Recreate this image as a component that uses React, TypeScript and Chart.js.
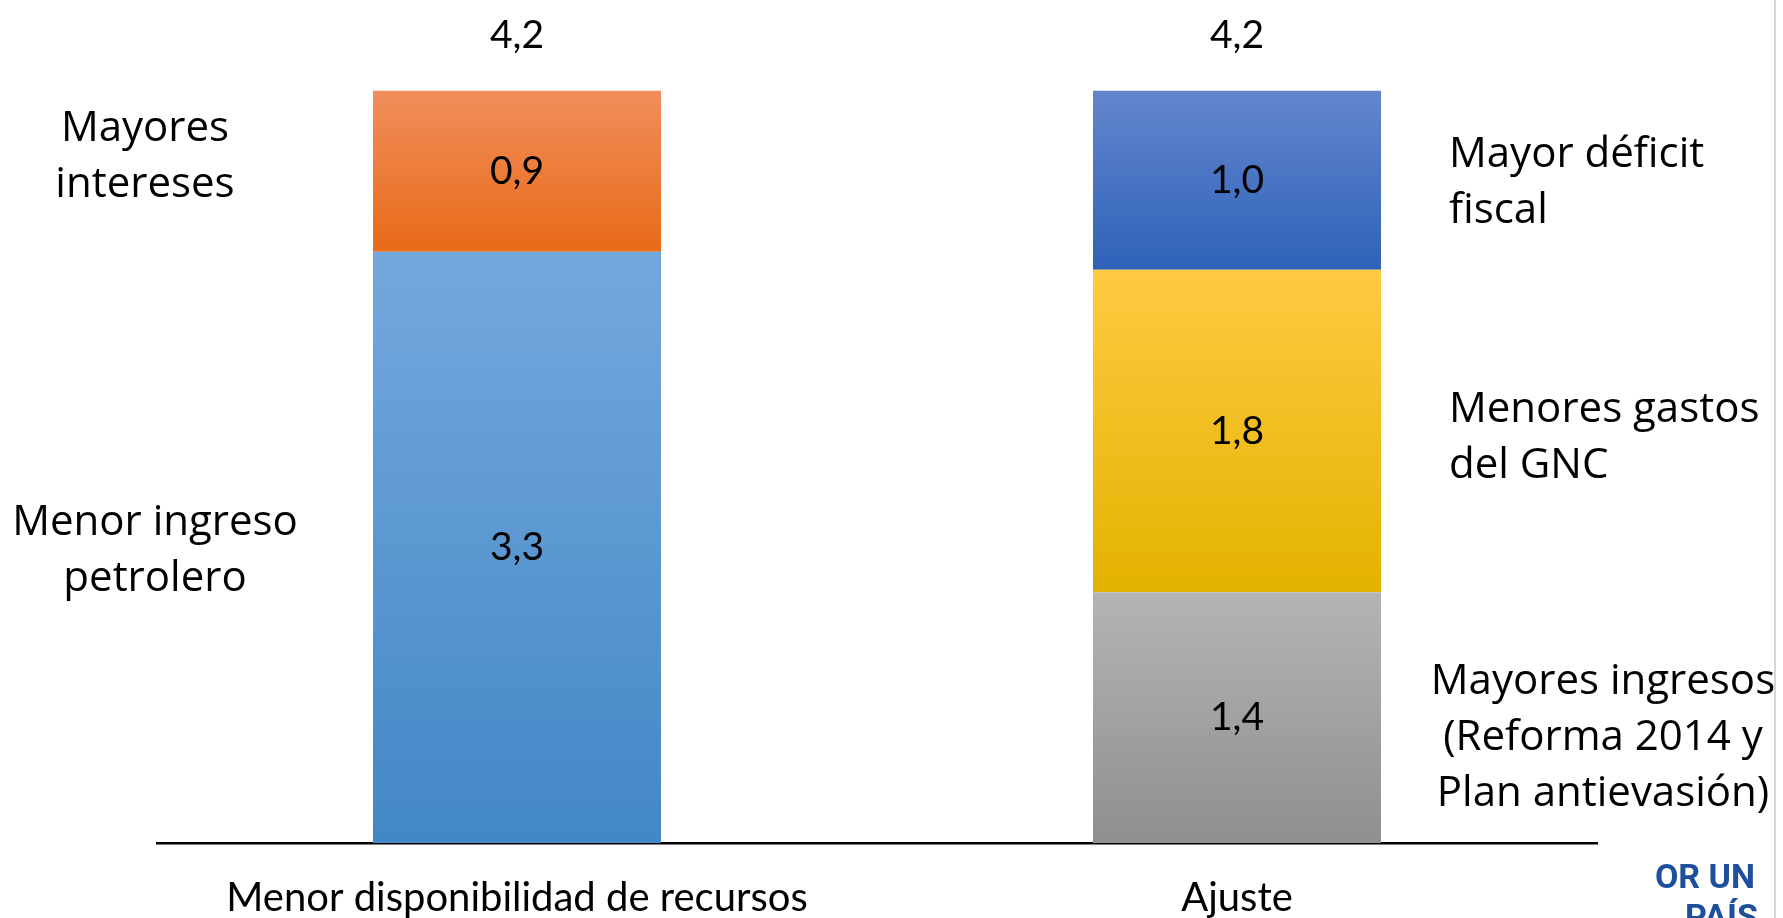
import React, { useEffect, useRef } from "react";
import { Chart, registerables } from "chart.js";

Chart.register(...registerables);

// ---- data ----
const categories = ["Menor disponibilidad de recursos", "Ajuste"];
const seriesNames = [
  "Menor ingreso petrolero",
  "Mayores intereses",
  "Mayores ingresos (Reforma 2014 y Plan antievasión)",
  "Menores gastos del GNC",
  "Mayor déficit fiscal",
];
const menorIngresoPetrolero = [3.3, null];
const mayoresIntereses = [0.9, null];
const mayoresIngresos = [null, 1.4];
const menoresGastos = [null, 1.8];
const mayorDeficit = [null, 1.0];
const sideLabelLines = [
  ["Menor ingreso", "petrolero"],
  ["Mayores", "intereses"],
  ["Mayores ingresos", "(Reforma 2014 y", "Plan antievasión)"],
  ["Menores gastos", "del GNC"],
  ["Mayor déficit", "fiscal"],
];
const logoLines = ["OR UN", "PAÍS"];

// ---- styles ----
const gradients: [string, string][] = [
  ["#74A8DD", "#4287C6"],
  ["#F18E5C", "#E86A18"],
  ["#B4B4B4", "#8F8F8F"],
  ["#FFCA42", "#E4B200"],
  ["#6386CD", "#2E62B8"],
];
// side: where the segment label sits; dx/dy offsets in px
const labelStyle = [
  { side: "left", align: "center", dx: -218, dy: 4 },
  { side: "left", align: "center", dx: -228, dy: -14 },
  { side: "right", align: "center", dx: 222, dy: 20 },
  { side: "right", align: "left", dx: 68, dy: 7 },
  { side: "right", align: "left", dx: 68, dy: 3 },
];
const allSeries = [menorIngresoPetrolero, mayoresIntereses, mayoresIngresos, menoresGastos, mayorDeficit];

const fmt = (v: number) => v.toFixed(1).replace(".", ",");

const labelsPlugin = {
  id: "labelsPlugin",
  afterDatasetsDraw(chart: any) {
    const ctx = chart.ctx;
    ctx.save();
    ctx.fillStyle = "#000";
    // values inside segments
    ctx.font = "39px Lato";
    ctx.textAlign = "center";
    ctx.textBaseline = "middle";
    chart.data.datasets.forEach((ds: any, di: number) => {
      const meta = chart.getDatasetMeta(di);
      ds.data.forEach((v: number | null, i: number) => {
        if (v == null) return;
        const el = meta.data[i];
        ctx.fillText(fmt(v), el.x, (el.y + el.base) / 2);
      });
    });
    // totals above bars
    categories.forEach((_, i) => {
      let total = 0;
      let topY = Infinity;
      let x = 0;
      chart.data.datasets.forEach((ds: any, di: number) => {
        const v = ds.data[i];
        if (v == null) return;
        total += v;
        const el = chart.getDatasetMeta(di).data[i];
        topY = Math.min(topY, el.y);
        x = el.x;
      });
      ctx.fillText(fmt(total), x, topY - 55);
    });
    // side labels
    ctx.font = "42px 'Open Sans'";
    const lh = 56;
    chart.data.datasets.forEach((ds: any, di: number) => {
      const meta = chart.getDatasetMeta(di);
      const st = labelStyle[di];
      const lines = sideLabelLines[di];
      ds.data.forEach((v: number | null, i: number) => {
        if (v == null) return;
        const el = meta.data[i];
        const left = el.x - el.width / 2;
        const right = el.x + el.width / 2;
        const x = st.side === "left" ? left + st.dx : right + st.dx;
        const cy = (el.y + el.base) / 2 + st.dy;
        ctx.textAlign = st.align;
        lines.forEach((t, li) => {
          ctx.fillText(t, x, cy + (li - (lines.length - 1) / 2) * lh);
        });
      });
    });
    ctx.restore();
  },
  afterDraw(chart: any) {
    const ctx = chart.ctx;
    ctx.save();
    ctx.strokeStyle = "#D6D6D6";
    ctx.lineWidth = 2;
    ctx.beginPath();
    ctx.moveTo(1775, 0);
    ctx.lineTo(1775, chart.height);
    ctx.stroke();
    ctx.fillStyle = "#1E4F9C";
    ctx.font = "bold 34px Roboto";
    ctx.textAlign = "right";
    ctx.textBaseline = "alphabetic";
    ctx.fillText(logoLines[0], 1755, 888);
    ctx.fillText(logoLines[1], 1758, 928);
    ctx.restore();
  },
};

export default function App() {
  const ref = useRef<HTMLCanvasElement | null>(null);
  useEffect(() => {
    document.body.style.margin = "0";
    const canvas = ref.current!;
    const datasets = allSeries.map((data, di) => ({
      label: seriesNames[di],
      data,
      stack: "s",
      barPercentage: 0.4,
      categoryPercentage: 1,
      borderWidth: 0,
      backgroundColor: (c: any) => {
        const chart = c.chart;
        const y = chart.scales?.y;
        const [top, bottom] = gradients[di];
        if (!y || c.type !== "data") return top;
        const i = c.dataIndex;
        const v = allSeries[di][i];
        if (v == null) return top;
        let base = 0;
        for (let k = 0; k < di; k++) base += allSeries[k][i] ?? 0;
        const y0 = y.getPixelForValue(base + v);
        const y1 = y.getPixelForValue(base);
        if (!isFinite(y0) || !isFinite(y1) || y0 === y1) return top;
        const g = chart.ctx.createLinearGradient(0, y0, 0, y1);
        g.addColorStop(0, top);
        g.addColorStop(1, bottom);
        return g;
      },
    }));
    const chart = new Chart(canvas, {
      type: "bar",
      data: { labels: categories, datasets },
      options: {
        animation: false,
        responsive: false,
        devicePixelRatio: 1,
        layout: { padding: { left: 157, right: 186, top: 19, bottom: 0 } },
        plugins: { legend: { display: false }, tooltip: { enabled: false } },
        scales: {
          x: {
            stacked: true,
            grid: { display: false, drawTicks: false },
            border: { display: true, color: "#000", width: 2.5 },
            ticks: { color: "#000", font: { family: "Lato", size: 40 }, padding: 31, maxRotation: 0 },
            afterFit: (scale: any) => {
              scale.height = 75;
            },
          },
          y: {
            stacked: true,
            display: false,
            min: 0,
            max: 4.6,
          },
        },
      },
      plugins: [labelsPlugin],
    });
    return () => chart.destroy();
  }, []);
  return (
    <div style={{ position: "absolute", left: 0, top: 0, width: 1783, height: 918, background: "#fff" }}>
      <canvas ref={ref} width={1783} height={918} style={{ display: "block" }} />
    </div>
  );
}
